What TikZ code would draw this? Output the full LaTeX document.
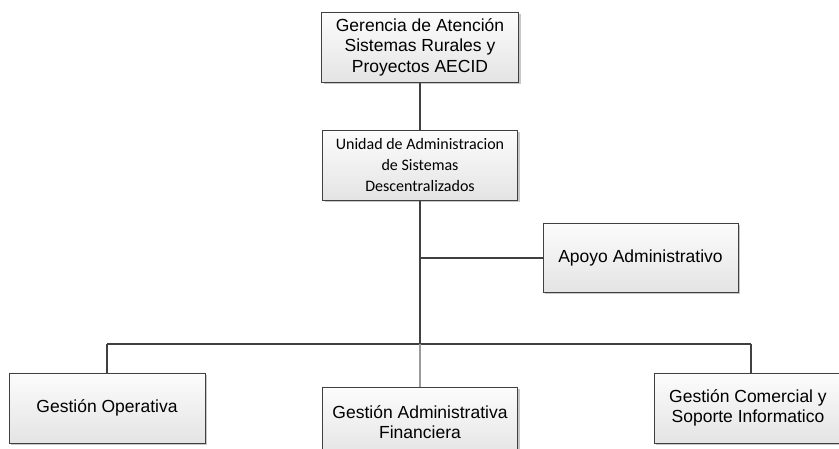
\documentclass[tikz,border=0pt]{standalone}
\usepackage{fontspec}
\setmainfont{Liberation Sans}
\newfontfamily\calibfont{Carlito}
\usetikzlibrary{shadows}
\definecolor{edgegray}{HTML}{404040}
\definecolor{lightlink}{HTML}{9A9A9A}
\definecolor{boxtop}{HTML}{FCFCFC}
\definecolor{boxbottom}{HTML}{E4E4E4}
\tikzset{
  orgbox/.style={draw=edgegray, line width=0.9pt, rectangle,
    top color=boxtop, bottom color=boxbottom,
    drop shadow={shadow xshift=2.2pt, shadow yshift=-2.2pt, fill=black!22, opacity=1},
    align=center, inner sep=2pt,
    font=\fontsize{17.5}{20.5}\selectfont},
  link/.style={draw=edgegray, line width=1.2pt},
  softlink/.style={draw=lightlink, line width=1.1pt}
}
\begin{document}
\begin{tikzpicture}[x=1pt, y=1pt]
  \useasboundingbox (0,0) rectangle (839,-449);
  \clip (0,0) rectangle (839,-449);
  \fill[white] (0,0) rectangle (839,-449);

  % boxes
  \node[orgbox, minimum width=197, minimum height=70] (ger) at (420,-47)
    {Gerencia de Atención\\Sistemas Rurales y\\Proyectos AECID};
  \node[orgbox, minimum width=195, minimum height=70,
        font=\calibfont\fontsize{16}{21}\selectfont] (uni) at (420,-165)
    {Unidad de Administracion\\de Sistemas\\Descentralizados};
  \node[orgbox, minimum width=195, minimum height=69] (apo) at (640.5,-257.5)
    {Apoyo Administrativo};
  \node[orgbox, minimum width=196, minimum height=70] (ope) at (107,-408)
    {Gestión Operativa};
  \node[orgbox, minimum width=195, minimum height=70] (adm) at (420,-422)
    {Gestión Administrativa\\Financiera};
  \node[orgbox, minimum width=188, minimum height=70] (com) at (748,-408)
    {Gestión Comercial y\\Soporte Informatico};

  % junction points
  \coordinate (bar) at (420,-344);
  \coordinate (barL) at (107,-344);
  \coordinate (barR) at (751,-344);
  \coordinate (apoJ) at (420,-258);

  % connectors
  \draw[link] (ger.south) -- (uni.north);
  \draw[link] (uni.south) -- (bar);
  \draw[link] (apoJ) -- (apoJ -| apo.west);
  \draw[link] (barL) -- (barR);
  \draw[link] (barL) -- (ope.north -| barL);
  \draw[link] (barR) -- (com.north -| barR);
  \draw[softlink] (bar) -- (adm.north);
\end{tikzpicture}
\end{document}
